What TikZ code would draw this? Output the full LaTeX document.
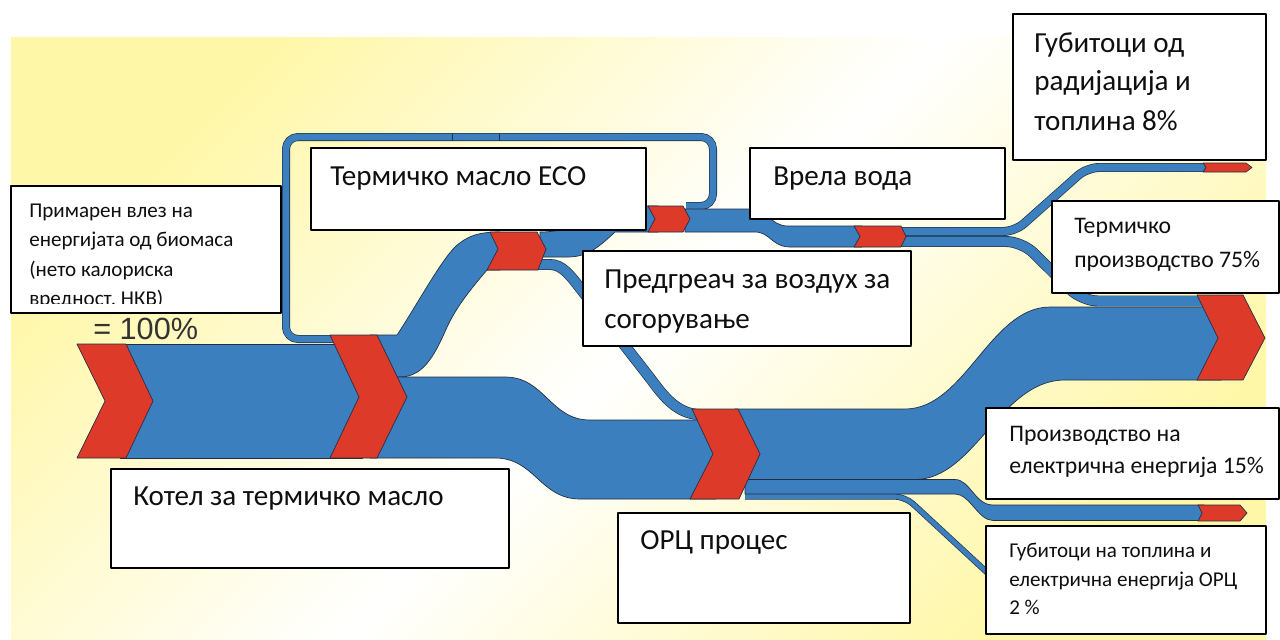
\documentclass[tikz,border=0pt]{standalone}
\usepackage{fontspec}
\setmainfont{Carlito}
\newfontfamily\arialfam{Liberation Sans}
\usetikzlibrary{fit}
\definecolor{blueC}{RGB}{59,127,191}
\definecolor{redC}{RGB}{221,58,41}
\definecolor{edgeC}{RGB}{35,45,65}
\definecolor{yelC}{RGB}{255,247,168}
\definecolor{txtC}{RGB}{15,15,15}
\newcommand{\fszA}{\fontsize{21.8}{25}\selectfont}
\newcommand{\fszB}{\fontsize{17.8}{20}\selectfont}
\newcommand{\fszC}{\fontsize{15.8}{18}\selectfont}
\tikzset{
  flow/.style={fill=blueC, draw=edgeC, line width=0.5pt},
  chev/.style={fill=redC, draw=edgeC, line width=0.5pt},
  pipe/.style={draw=edgeC, double=blueC, line width=0.5pt},
  box/.style={draw=black, line width=1.6pt, fill=white, inner sep=0pt},
  lbl/.style={anchor=base west, inner sep=0pt, text=txtC}
}
\begin{document}
\begin{tikzpicture}[x=0.75pt,y=-0.75pt,line join=round]
\useasboundingbox (0,0) rectangle (1280,639);
\fill[white] (0,0) rectangle (1280,639);
\shade[top color=yelC, bottom color=yelC, middle color=white, shading angle=45] (11,37) rectangle (1266,639);

% ---------- thin pipes ----------
% thermal oil loop
\draw[pipe, double distance=5pt, rounded corners=9pt] (335,339) -- (286,339) -- (286,137) -- (713,137) -- (713,206) -- (686,206);
\draw[edgeC, line width=0.5pt] (452,133.5) -- (452,140.5) (499,133.5) -- (499,140.5);
% to air preheater and ORC
\draw[pipe, double distance=7.2pt] (535,264.5) -- (550,264.5) .. controls (562,264.5) and (570,275) .. (580,288) -- (650,378) .. controls (660,391) and (675,414.5) .. (700,414.5) -- (712,414.5);
% hot water -> radiation losses
\draw[pipe, double distance=5.7pt, rounded corners=9pt] (895,231.5) -- (1015,231.5) -- (1087,167.5) -- (1210,167.5);
% hot water -> thermal production
\draw[pipe, double distance=7.2pt, rounded corners=12pt] (895,241.5) -- (1022,241.5) -- (1082,301) -- (1212,301);
% ORC losses
\draw[pipe, double distance=3.5pt, rounded corners=8pt] (745,496.5) -- (905,496.5) -- (992,577);

% ---------- wide bands ----------
\path[flow] (120,344) rectangle (362,458);
\path[flow] (370,335) -- (397,335) .. controls (415,308) and (440,262) .. (455,247) .. controls (467,236) and (478,232) .. (500,232) -- (500,270) -- (487,270) .. controls (470,290) and (458,305) .. (448,325) .. controls (436,352) and (425,377) .. (400,377) -- (370,377) -- cycle;
\path[flow] (370,377) -- (505,377) .. controls (545,377) and (550,420) .. (590,420) -- (716,420) -- (716,499) -- (580,499) .. controls (540,499) and (535,458) .. (495,458) -- (370,458) -- cycle;
\path[flow] (540,232) .. controls (585,232) and (595,206) .. (640,206) -- (658,206) -- (658,232) -- (615,232) .. controls (600,246) and (588,257) .. (568,257) -- (540,257) -- cycle;
\path[flow] (685,209) -- (752,209) .. controls (768,209) and (770,226) .. (788,226) -- (862,226) -- (862,247) -- (790,247) .. controls (772,247) and (770,232) .. (755,232) -- (685,232) -- cycle;
\path[flow] (735,409) -- (905,409) .. controls (965,409) and (990,307) .. (1050,307) -- (1221,307) -- (1221,380) -- (1065,380) .. controls (1000,380) and (975,479.5) .. (915,479.5) -- (745,479.5) -- cycle;
\path[flow] (745,479.5) -- (955,479.5) .. controls (970,479.5) and (975,505) .. (993,505) -- (1204,505) -- (1204,520.5) -- (993,520.5) .. controls (978,520.5) and (970,494) .. (955,494) -- (745,494) -- cycle;

% ---------- chevrons ----------
\path[chev] (77,344) -- (126,344) -- (153,401) -- (126,458) -- (77,458) -- (105,401) -- cycle;
\path[chev] (330,335) -- (377,335) -- (407,397) -- (377,458) -- (330,458) -- (359,397) -- cycle;
\path[chev] (490,232) -- (537,232) -- (546,249) -- (538,270) -- (487,270) -- (498,249) -- cycle;
\path[chev] (648,206) -- (683,206) -- (690,219) -- (683,232) -- (648,232) -- (655,219) -- cycle;
\path[chev] (854,226) -- (901,226) -- (906,236.5) -- (901,247) -- (854,247) -- (860,236.5) -- cycle;
\path[chev] (692,409) -- (738,409) -- (760,454) -- (739,499) -- (690,499) -- (713,454) -- cycle;
\path[chev] (1197,295) -- (1243,295) -- (1265,338) -- (1243,380) -- (1197,380) -- (1218,338) -- cycle;
\path[chev] (1198,505) -- (1240,505) -- (1247,513) -- (1240,521) -- (1198,521) -- (1202,513) -- cycle;
\path[chev] (1203,163) -- (1246,163) -- (1252,167.5) -- (1246,172) -- (1203,172) -- (1206,167.5) -- cycle;

% ---------- boxes ----------
\node[box, fit={(11,186) (281,313)}] (prim) {};
\node[box, fit={(311,148) (646,230)}] (eco) {};
\node[box, fit={(750,148) (1005,219)}] (vrela) {};
\node[box, fit={(1013,14) (1266,160)}] (gub1) {};
\node[box, fit={(1052,201) (1279,293)}] (term) {};
\node[box, fit={(583,251) (911,346)}] (pred) {};
\node[box, fit={(111,469) (509,568)}] (kotel) {};
\node[box, fit={(618,513) (910,623)}] (orc) {};
\node[box, fit={(986,408) (1279,499)}] (proiz) {};
\node[box, fit={(986,526) (1266,634)}] (gub2) {};

% ---------- texts ----------
\begin{scope}
\clip (12,187) rectangle (280,303);
\node[lbl, font=\fszC] (p1) at (29,217) {Примарен влез на};
\node[lbl, font=\fszC] (p2) at (29,246.5) {енергијата од биомаса};
\node[lbl, font=\fszC] (p3) at (29,276) {(нето калориска};
\node[lbl, font=\fszC] (p4) at (29,305.5) {вредност, НКВ)};
\end{scope}
\node[lbl, font=\arialfam\fontsize{23}{26}\selectfont, text=black!80] (pct) at (93,339) {= 100\%};

\node[lbl, font=\fszA] (e1) at (330,185) {Термичко масло ECO};
\node[lbl, font=\fszA] (v1) at (773,185) {Врела вода};
\node[lbl, font=\fszA] (g1) at (1034,52) {Губитоци од};
\node[lbl, font=\fszA] (g2) at (1034,90) {радијација и};
\node[lbl, font=\fszA] (g3) at (1034,130) {топлина 8\%};
\node[lbl, font=\fszB] (t1) at (1074,233) {Термичко};
\node[lbl, font=\fszB] (t2) at (1074,267) {производство 75\%};
\node[lbl, font=\fszA] (r1) at (604,288) {Предгреач за воздух за};
\node[lbl, font=\fszA] (r2) at (604,328) {согорување};
\node[lbl, font=\fszA] (k1) at (133,505) {Котел за термичко масло};
\node[lbl, font=\fszA] (o1) at (640,549) {ОРЦ процес};
\node[lbl, font=\fszB] (z1) at (1009,441) {Производство на};
\node[lbl, font=\fszB] (z2) at (1009,473) {електрична енергија 15\%};
\node[lbl, font=\fszC] (l1) at (1009,557) {Губитоци на топлина и};
\node[lbl, font=\fszC] (l2) at (1009,586) {електрична енергија ОРЦ};
\node[lbl, font=\fszC] (l3) at (1009,614) {2 \%};
\end{tikzpicture}
\end{document}
